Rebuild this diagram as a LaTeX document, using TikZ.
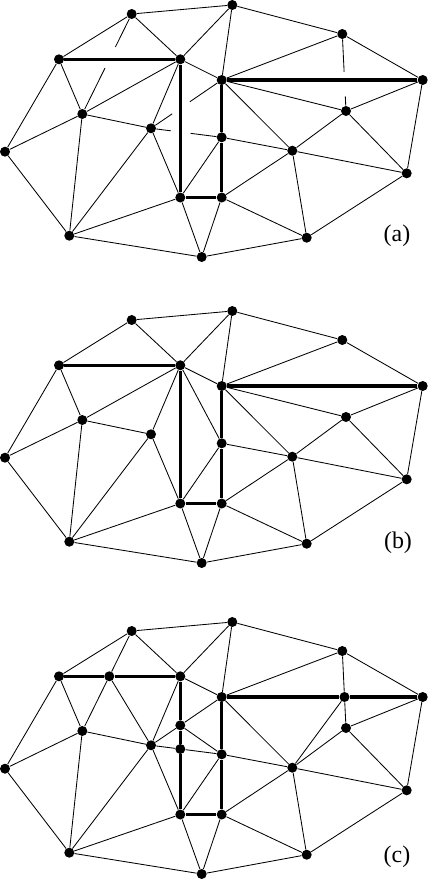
\documentclass[tikz,border=0pt]{standalone}
\usepackage{fontspec}
\setmainfont{Liberation Serif}
\usetikzlibrary{calc}

% vertex positions shared by the three panels (pixel grid, y downwards)
\newcommand{\meshnodes}{A/131.7/14, J/232.3/5, K/342.3/34, B/59/59.3, C/180.3/59.3,
  L/221.7/80, M/422.7/80, D/82.3/114, N/346/111, E/151/128.3, O/221.7/137.3,
  P/292.3/150.7, F/5/151.7, Q/406.7/173.3, G/180.3/197.5, R/221.7/197.5,
  H/69.3/235.7, S/306.7/237.7, I/201.7/257}
% edges that all three panels keep
\newcommand{\meshedges}{A/J, A/B, A/C, B/D, B/F, C/E, C/J, C/L, D/E, D/F, D/H,
  E/H, E/G, F/H, G/H, G/I, G/O, H/I, I/R, I/S, J/K, J/L, K/L, K/M, L/P,
  M/N, M/Q, N/P, N/Q, O/P, P/R, P/Q, P/S, Q/S, R/S}

\begin{document}
\begin{tikzpicture}[
    x=0.25mm, y=-0.25mm,
    vertex/.style={circle, fill, inner sep=0pt, minimum size=2.5mm},
    mesh/.style={line width=0.6pt},
    cut/.style={line width=2.5pt, line join=round},
    panel/.style={font=\fontsize{17}{20}\selectfont}
]
\useasboundingbox (0,0) rectangle (429,880);

% (a)
\begin{scope}[name prefix=a]
\foreach \n/\x/\y in \meshnodes \node[vertex] (\n) at (\x,\y) {};
\foreach \u/\v in \meshedges \draw[mesh] (\u) -- (\v);
\draw[mesh] (C) -- (D) (L) -- (N);
\draw[mesh] (A) -- ($(A)!0.33!(D)$) ($(A)!0.54!(D)$) -- (D);
\draw[mesh] (E) -- ($(E)!0.30!(L)$) ($(E)!0.55!(L)$) -- (L);
\draw[mesh] (E) -- ($(E)!0.28!(O)$) ($(E)!0.56!(O)$) -- (O);
\draw[mesh] (K) -- ($(K)!0.49!(N)$) ($(K)!0.81!(N)$) -- (N);
\draw[cut] (B) -- (C) -- (G) -- (R) -- (O) -- (L) -- (M);
\end{scope}
\node[panel] (taga) at (397,236) {(a)};

% (b)
\begin{scope}[shift={(0,306)}, name prefix=b]
\foreach \n/\x/\y in \meshnodes \node[vertex] (\n) at (\x,\y) {};
\foreach \u/\v in \meshedges \draw[mesh] (\u) -- (\v);
\draw[mesh] (C) -- (D) (L) -- (N) (C) -- (O);
\draw[cut] (B) -- (C) -- (G) -- (R) -- (O) -- (L) -- (M);
\end{scope}
\node[panel] (tagb) at (398,543) {(b)};

% (c)
\begin{scope}[shift={(0,617)}, name prefix=c]
\foreach \n/\x/\y in \meshnodes \node[vertex] (\n) at (\x,\y) {};
\foreach \n/\x/\y in {T/109.3/59.3, U/180.3/108.3, V/180.3/132, W/344.5/80}
  \node[vertex] (\n) at (\x,\y) {};
\foreach \u/\v in \meshedges \draw[mesh] (\u) -- (\v);
\foreach \u/\v in {A/T, T/D, T/E, E/U, U/L, U/O, E/V, V/O, K/W, W/N, W/P}
  \draw[mesh] (\u) -- (\v);
\draw[cut] (B) -- (T) -- (C) -- (U) -- (V) -- (G) -- (R) -- (O) -- (L) -- (W) -- (M);
\end{scope}
\node[panel] (tagc) at (397,857) {(c)};
\end{tikzpicture}
\end{document}
